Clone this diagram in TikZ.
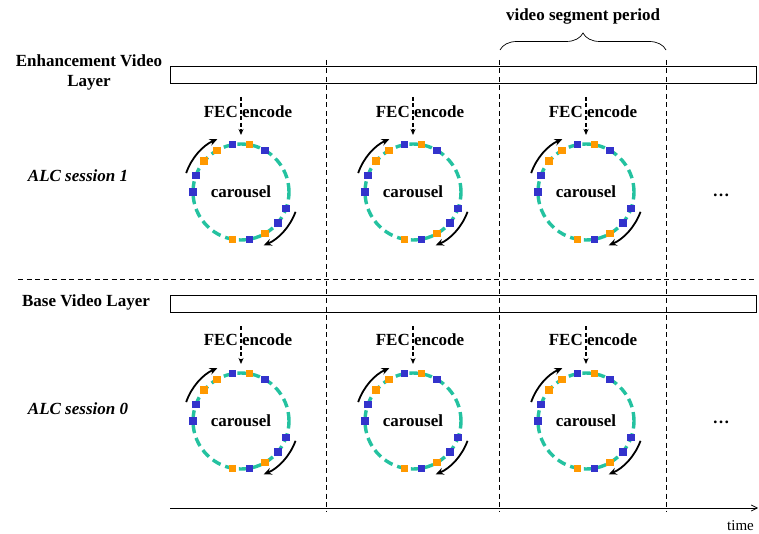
\documentclass[tikz,border=0pt]{standalone}
\usepackage{fontspec}
\setmainfont{Liberation Serif}
\usetikzlibrary{arrows.meta,decorations.pathreplacing}
\definecolor{ringc}{RGB}{36,194,160}
\definecolor{pblue}{RGB}{51,51,204}
\definecolor{porange}{RGB}{255,153,0}
\begin{document}
\begin{tikzpicture}[x=1pt,y=1pt,
  lbl/.style={font=\fontsize{17}{20}\selectfont\bfseries, inner sep=0pt},
  ilbl/.style={font=\fontsize{17}{20}\selectfont\bfseries\itshape, inner sep=0pt},
  ringnode/.style={circle, draw=ringc, line width=3.4pt, dash pattern=on 9pt off 5pt,
     minimum size=96pt, inner sep=0pt, outer sep=0pt, font=\fontsize{17}{20}\selectfont\bfseries},
  sqb/.style={rectangle, fill=pblue, minimum size=7.5pt, inner sep=0pt},
  sqo/.style={rectangle, fill=porange, minimum size=7.5pt, inner sep=0pt},
  rot/.style={line width=1.8pt, -{Stealth[length=8pt,width=7pt]}},
  fec/.style={line width=1.6pt, dash pattern=on 4pt off 2.5pt, -{Stealth[length=6pt,width=5pt]}},
  bar/.style={draw, line width=0.8pt, minimum width=586pt, minimum height=17pt, inner sep=0pt},
  vdash/.style={line width=0.6pt, dash pattern=on 5pt off 3.5pt},
]
\useasboundingbox (0,0) rectangle (759,533);

% layer bars
\node[bar] (ebar) at (463,458.5) {};
\node[bar] (bbar) at (463,229.5) {};

% labels on the left
\node[lbl, align=center] (elab) at (89,461) {Enhancement Video\\Layer};
\node[lbl] (blab) at (86,231) {Base Video Layer};
\node[ilbl] (alc1) at (78,357) {ALC session 1};
\node[ilbl] (alc0) at (78,124) {ALC session 0};

% separator
\coordinate (sepL) at (18,254);
\coordinate (sepR) at (756,254);
\draw[vdash] (sepL) -- (sepR);

% vertical segment boundaries
\foreach \x [count=\k] in {326,499,666} {
  \coordinate (vt\k) at (\x,473);
  \coordinate (vb\k) at (\x,21);
  \draw[vdash] (vt\k) -- (vb\k);
}

% time axis
\coordinate (ax0) at (170,25);
\coordinate (ax1) at (758,25);
\draw[line width=0.7pt, -{Straight Barb[length=6pt,width=6pt]}] (ax0) -- (ax1);
\node[font=\fontsize{15}{17}\selectfont, anchor=base west, inner sep=0pt] (time) at (727,3) {time};

% brace
\coordinate (brL) at (500,483);
\coordinate (brR) at (666,483);
\draw[line width=0.7pt, decorate, decoration={brace, amplitude=17pt}] (brL) -- (brR);
\node[lbl] (vsp) at (583,517) {video segment period};

% carousels
\foreach \cx [count=\i] in {241,413,586} {
  \foreach \cy/\fy/\at/\ab [count=\j] in {341/421/436/398, 112/193/207/169} {
    \node[ringnode] (r\i\j) at (\cx,\cy) {carousel};
    \node[lbl] (f\i\j) at (\cx+7,\fy) {FEC encode};
    \coordinate (fs\i\j) at (\cx,\at);
    \coordinate (fe\i\j) at (\cx,\ab);
    \draw[fec] (fs\i\j) -- (fe\i\j);
    \foreach \a in {180,160,100,60,-20,-40,-80} \node[sqb] at (r\i\j.\a) {};
    \foreach \a in {140,120,80,-60,-100} \node[sqo] at (r\i\j.\a) {};
    \draw[rot] ([shift={(161:58pt)}]r\i\j.center) arc[start angle=161, end angle=114, radius=58pt];
    \draw[rot] ([shift={(-20:58pt)}]r\i\j.center) arc[start angle=-20, end angle=-67, radius=58pt];
  }
}

% continuation dots
\node[lbl] (dots1) at (721,338) {\dots};
\node[lbl] (dots0) at (721,111) {\dots};
\end{tikzpicture}
\end{document}
